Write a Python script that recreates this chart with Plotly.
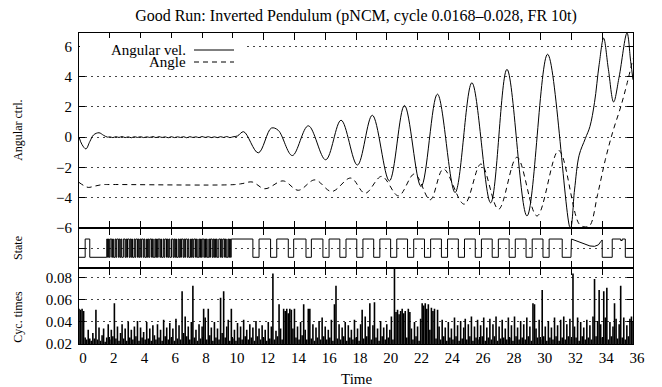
import plotly.graph_objects as go

# ---------------- data ----------------
vel_t = [0.0, 0.2, 0.45, 0.7, 0.95, 1.3, 1.6, 1.85,
         2.0, 2.2, 2.4, 2.6, 2.8, 3.0, 3.2, 3.4, 3.6, 3.8, 4.0, 4.2, 4.4, 4.6, 4.8,
         5.0, 5.2, 5.4, 5.6, 5.8, 6.0, 6.2, 6.4, 6.6, 6.8, 7.0, 7.2, 7.4, 7.6, 7.8,
         8.0, 8.2, 8.4, 8.6, 8.8, 9.0, 9.2, 9.4, 9.6, 9.8, 10.0,
         10.3, 10.7, 11.65, 12.5, 12.95, 13.86, 14.9,
         16.03, 17.03, 18.09, 19.06, 20.17,
         21.15, 22.23, 23.29, 24.44, 25.53,
         26.75, 27.81, 29.11, 30.45, 31.93,
         32.2, 32.5, 32.9, 33.2, 33.5, 33.8, 34.09, 34.4, 34.74, 35.1, 35.61,
         35.85, 36.0]
vel_v = [0.0, -0.5, -0.78, -0.3, 0.15, 0.29, 0.12, 0.0,
         0.02, -0.03, 0.03, -0.02, 0.04, -0.03, 0.02, -0.04, 0.03, -0.02, 0.03,
         -0.03, 0.02, -0.02, 0.04, -0.03, 0.03, -0.02, 0.02, -0.04, 0.03, -0.03,
         0.02, -0.02, 0.03, -0.04, 0.03, -0.02, 0.02, -0.03, 0.04, -0.02, 0.03,
         -0.03, 0.02, -0.03, 0.03, -0.02, 0.04, -0.03, 0.02,
         0.08, 0.36, -1.04, 0.6, 0.45, -1.22, 0.75,
         -1.5, 1.12, -1.85, 1.45, -2.9,
         2.1, -3.27, 2.85, -3.67, 3.6,
         -4.35, 4.49, -5.22, 5.49, -6.05,
         -3.5, -1.2, -0.1, 0.7, 2.3, 4.8, 6.56, 4.5, 2.33, 4.0, 6.9,
         5.0, 3.8]

ang_t = [0.0, 0.3, 0.6, 1.0, 1.5, 2.0, 10.0, 10.6, 11.25, 12.08, 13.27, 14.25,
         15.33, 16.42, 17.66, 18.59, 19.67, 20.76, 21.8, 22.82, 23.68, 25.03,
         26.12, 27.26, 28.46, 29.76, 31.17, 32.5, 32.9, 33.2, 33.7, 34.2, 34.7,
         35.2, 35.6, 36.0]
ang_v = [-3.0, -3.2, -3.33, -3.25, -3.15, -3.14, -3.15, -3.08, -2.97, -3.42,
         -2.9, -3.52, -2.83, -3.6, -2.71, -3.72, -2.6, -3.89, -2.44, -4.15,
         -2.11, -4.44, -1.78, -4.78, -1.33, -5.22, -0.89, -5.75, -5.95, -5.85,
         -3.8, -1.5, 0.4, 2.0, 3.5, 5.2]

# state: slow change points (time, level)
state_early_t = [0.0, 0.4, 0.7]
state_early_v = [0, 1, 0]
state_rapid_start = 1.75
state_rapid_end = 10.0
state_rapid_bits = ("0101011010010110101001101011010100101101010110100101011010010101"
                    "1010010110101001101010010101101011010010101101001010110101001011"
                    "0101010011010110100101011")
state_late_t = [10.0, 11.3, 11.7, 12.45, 12.85, 13.6, 13.95, 14.75, 15.1, 15.85,
                16.25, 16.95, 17.35, 18.05, 18.45, 19.15, 19.55, 20.25, 20.65,
                21.35, 21.75, 22.45, 22.85, 23.55, 23.95, 24.65, 25.05, 25.75,
                26.15, 26.85, 27.25, 27.95, 28.35, 29.05, 29.45, 30.15, 30.55,
                31.4]
state_late_v = [1, 0, 1, 0, 1, 0, 1, 0, 1, 0, 1, 0, 1, 0, 1, 0, 1, 0, 1, 0, 1, 0,
                1, 0, 1, 0, 1, 0, 1, 0, 1, 0, 1, 0, 1, 0, 1, 0]
state_curve_t = [31.97, 32.0, 32.3, 32.6, 32.9, 33.2, 33.5, 33.75, 33.9, 34.0]
state_curve_v = [0.0, 1.0, 0.9, 0.78, 0.68, 0.62, 0.6, 0.68, 0.85, 0.95]
state_end_t = [34.0, 34.65, 35.2, 35.3, 35.5, 36.0]
state_end_v = [0, 1, 0.92, 1, 0, 0]

# cycle times in ms, one value per 0.1 s from 0 to 36
cyc_step = 0.1
cyc_ms = [
    52, 51, 52, 50, 26, 24, 33, 25, 23, 30,
    25, 51, 24, 35, 23, 28, 34, 22, 26, 38,
    24, 33, 27, 57, 25, 36, 23, 30, 38, 25,
    34, 23, 40, 26, 33, 24, 36, 27, 41, 23,
    35, 26, 31, 24, 40, 25, 34, 23, 37, 28,
    24, 38, 26, 33, 23, 42, 27, 35, 24, 39,
    26, 34, 23, 43, 25, 37, 24, 68, 30, 45,
    27, 36, 24, 40, 73, 26, 33, 23, 38, 25,
    36, 52, 44, 24, 52, 28, 35, 23, 40, 26,
    34, 24, 62, 30, 68, 26, 36, 42, 23, 52,
    25, 33, 23, 39, 26, 36, 24, 42, 27, 33,
    24, 38, 26, 35, 23, 41, 27, 34, 24, 37,
    26, 33, 23, 40, 25, 36, 84, 24, 32, 27,
    56, 34, 24, 52, 50, 52, 48, 52, 51, 34,
    52, 26, 36, 24, 40, 28, 56, 33, 24, 52,
    52, 25, 38, 23, 35, 26, 41, 24, 44, 27,
    36, 24, 33, 26, 42, 23, 56, 73, 25, 38,
    24, 35, 27, 40, 23, 37, 26, 33, 24, 42,
    26, 34, 23, 38, 51, 25, 45, 27, 36, 57,
    24, 37, 58, 26, 34, 23, 41, 27, 35, 24,
    38, 26, 33, 45, 24, 95, 49, 51, 47, 50,
    52, 48, 50, 26, 52, 49, 34, 24, 40, 27,
    36, 23, 43, 57, 55, 57, 52, 56, 33, 53,
    50, 52, 25, 51, 36, 24, 42, 27, 35, 23,
    40, 26, 34, 24, 44, 27, 37, 23, 41, 25,
    35, 43, 24, 38, 27, 45, 23, 36, 26, 42,
    24, 37, 27, 44, 23, 35, 26, 43, 24, 38,
    27, 45, 23, 36, 25, 42, 26, 34, 24, 44,
    26, 37, 23, 45, 27, 35, 24, 41, 26, 38,
    24, 44, 27, 36, 23, 57, 56, 34, 26, 42,
    24, 69, 27, 36, 23, 41, 26, 35, 24, 44,
    27, 37, 23, 42, 26, 45, 24, 38, 27, 43,
    24, 84, 36, 26, 44, 23, 40, 27, 35, 24,
    42, 26, 37, 24, 45, 79, 27, 41, 69, 38,
    26, 68, 44, 71, 24, 40, 27, 36, 57, 43,
    25, 38, 73, 26, 44, 24, 37, 27, 43, 45,
    40]

x_ticks = list(range(0, 37, 2))
top_ticks = [-6, -4, -2, 0, 2, 4, 6]
cyc_ticks = [0.02, 0.04, 0.06, 0.08]

# ---------------- build ----------------
FONT = "Liberation Serif"
W, H = 662, 387
L, R, T, B = 79, 29, 33, 43
PH = H - T - B
h_top, h_state, h_cyc = 194.7, 40.0, PH - 194.7 - 40.0
d_cyc = [0, h_cyc / PH]
d_state = [h_cyc / PH, (h_cyc + h_state) / PH]
d_top = [(h_cyc + h_state) / PH, 1]


def step_xy(ts, vs, t_end):
    xs, ys = [], []
    for i, (t, v) in enumerate(zip(ts, vs)):
        t2 = ts[i + 1] if i + 1 < len(ts) else t_end
        xs += [t, t2]
        ys += [v, v]
    return xs, ys


fig = go.Figure()
fig.add_trace(go.Scatter(x=vel_t, y=vel_v, mode="lines", line=dict(color="black", width=1, shape="spline", smoothing=1.0),
                         xaxis="x", yaxis="y", showlegend=False))
fig.add_trace(go.Scatter(x=ang_t, y=ang_v, mode="lines", line=dict(color="black", width=1, dash="5px,4px", shape="spline", smoothing=1.0),
                         xaxis="x", yaxis="y", showlegend=False))

# state
sx, sy = step_xy(state_early_t, state_early_v, state_rapid_start)
n = len(state_rapid_bits)
dt = (state_rapid_end - state_rapid_start) / n
rt = [state_rapid_start + i * dt for i in range(n)]
rv = [int(c) for c in state_rapid_bits]
x2, y2 = step_xy(rt, rv, state_rapid_end)
x3, y3 = step_xy(state_late_t, state_late_v, state_curve_t[0])
x4, y4 = step_xy(state_end_t, state_end_v, 36.0)
sx = sx + x2 + x3 + state_curve_t + x4
sy = sy + y2 + y3 + state_curve_v + y4
fig.add_trace(go.Scatter(x=sx, y=sy, mode="lines", line=dict(color="black", width=1),
                         xaxis="x2", yaxis="y2", showlegend=False))

# cycle time impulses
ix, iy = [], []
for i, v in enumerate(cyc_ms):
    t = i * cyc_step
    ix += [t, t, None]
    iy += [0.02, v / 1000.0, None]
fig.add_trace(go.Scatter(x=ix, y=iy, mode="lines", line=dict(color="black", width=1.6),
                         xaxis="x3", yaxis="y3", showlegend=False))

grid = dict(showgrid=True, gridcolor="#444", gridwidth=1, griddash="2px,4px")
xcommon = dict(range=[0, 36], tickvals=x_ticks, ticks="inside", ticklen=7, tickcolor="black",
               showline=True, linecolor="black", linewidth=1, mirror="ticks", showgrid=False,
               zeroline=False, tickfont=dict(family=FONT, size=15, color="black"))
ycommon = dict(ticks="inside", ticklen=6, tickcolor="black", showline=True, linecolor="black",
               linewidth=1, mirror="ticks", zeroline=False, ticklabelstandoff=3,
               tickfont=dict(family=FONT, size=15, color="black"), **grid)

fig.update_layout(
    width=W, height=H, margin=dict(l=L, r=R, t=T, b=B),
    paper_bgcolor="white", plot_bgcolor="white", showlegend=False,
    title=dict(text="Good Run: Inverted Pendulum (pNCM, cycle 0.0168–0.028, FR 10t)",
               x=0.5, xref="paper", xanchor="center", y=1 - 15 / H, yanchor="middle",
               font=dict(family=FONT, size=16, color="black")),
    xaxis=dict(domain=[0, 1], anchor="y", showticklabels=False, **xcommon),
    xaxis2=dict(domain=[0, 1], anchor="y2", matches="x", showticklabels=False, **xcommon),
    xaxis3=dict(domain=[0, 1], anchor="y3", matches="x", showticklabels=True, ticklabelshift=4, **xcommon),
    yaxis=dict(domain=d_top, anchor="x", range=[-6, 6.9], tickvals=top_ticks, **ycommon),
    yaxis2=dict(domain=d_state, anchor="x2", range=[-0.57, 1.62], tickvals=[0.5],
                showticklabels=False, **ycommon),
    yaxis3=dict(domain=d_cyc, anchor="x3", range=[0.02, 0.0893], tickvals=cyc_ticks,
                ticktext=["0.02", "0.04", "0.06", "0.08"], **ycommon),
)


def px_to_paper_x(px):
    return (px - L) / (W - L - R)


def px_to_paper_y(py):
    return (H - B - py) / PH


# axis labels
for txt, py in [("Angular ctrl.", 130.8), ("State", 248), ("Cyc. times", 316.7)]:
    fig.add_annotation(text=txt, xref="paper", yref="paper", x=px_to_paper_x(18), y=px_to_paper_y(py),
                       textangle=-90, showarrow=False, xanchor="center", yanchor="middle",
                       font=dict(family=FONT, size=12, color="black"))
fig.add_annotation(text="Time", xref="paper", yref="paper", x=0.5, y=px_to_paper_y(379),
                   showarrow=False, xanchor="center", yanchor="middle",
                   font=dict(family=FONT, size=15, color="black"))

# legend (gnuplot style: text right-aligned, sample to the right)
fig.add_shape(type="rect", xref="paper", yref="paper", x0=px_to_paper_x(80), x1=px_to_paper_x(244),
              y0=px_to_paper_y(69), y1=px_to_paper_y(38), fillcolor="white", line=dict(width=0), layer="above")
for txt, py, dash in [("Angular vel.", 50, "solid"), ("Angle", 62, "5px,4px")]:
    fig.add_annotation(text=txt, xref="paper", yref="paper", x=px_to_paper_x(188), y=px_to_paper_y(py),
                       showarrow=False, xanchor="right", yanchor="middle",
                       font=dict(family=FONT, size=15, color="black"))
    fig.add_shape(type="line", xref="paper", yref="paper", x0=px_to_paper_x(194), x1=px_to_paper_x(234),
                  y0=px_to_paper_y(py), y1=px_to_paper_y(py), line=dict(color="black", width=1, dash=dash),
                  layer="above")

fig.write_html("out.html", config={"displayModeBar": False, "staticPlot": True},
               post_script="document.body.style.margin='0';document.body.style.overflow='hidden';")
